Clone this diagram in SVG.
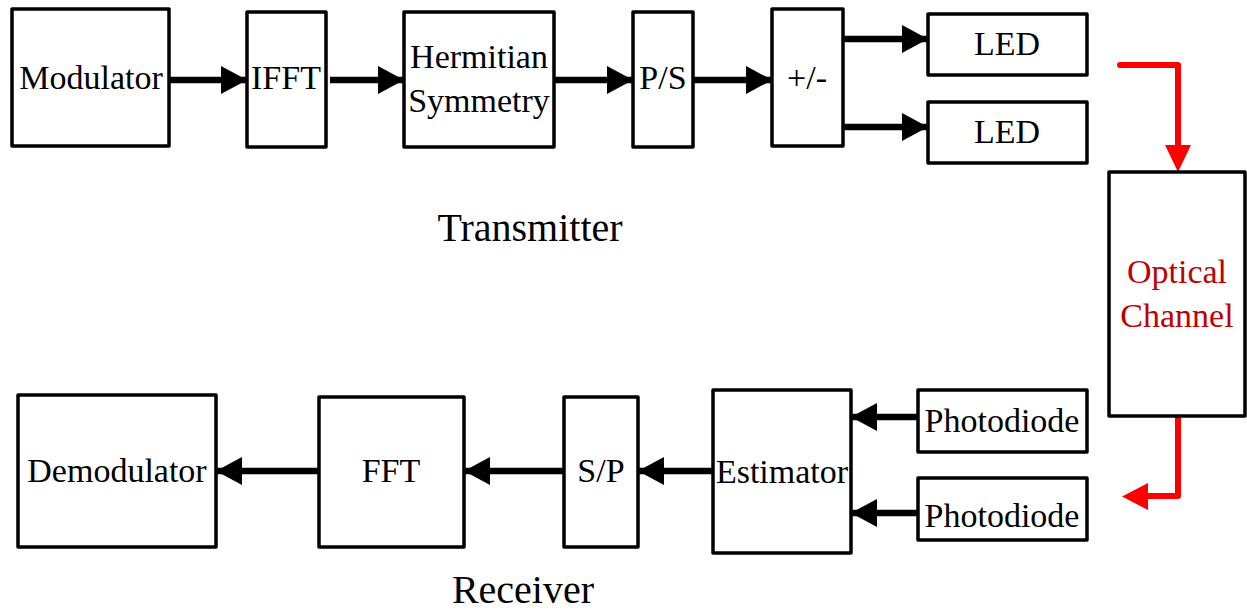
<svg xmlns="http://www.w3.org/2000/svg" width="1247" height="610" viewBox="0 0 1247 610">
<style>
.box{fill:#fff;stroke:#000;stroke-width:3.5;stroke-linejoin:round}
.t{font-family:"Liberation Serif","Times New Roman",serif;font-size:34px;fill:#000;text-anchor:middle}
.title{font-family:"Liberation Serif","Times New Roman",serif;font-size:40px;fill:#000;text-anchor:middle}
.red{fill:#C00000}
.c{fill:none;stroke:#000;stroke-width:6.5}
.cr{fill:none;stroke:#FF0000;stroke-width:6;stroke-linecap:round;stroke-linejoin:round}
</style>
<defs>
<marker id="ah" markerUnits="userSpaceOnUse" markerWidth="27" markerHeight="29" refX="26" refY="14" orient="auto">
<path d="M0,0 L26,14 L0,28 z" fill="#000"/>
</marker>
</defs>
<rect width="1247" height="610" fill="#fff"/>
<g id="connectors">
<line class="c" x1="169" y1="80" x2="247" y2="80" marker-end="url(#ah)"/>
<line class="c" x1="330" y1="80" x2="404" y2="80" marker-end="url(#ah)"/>
<line class="c" x1="554" y1="80" x2="633" y2="80" marker-end="url(#ah)"/>
<line class="c" x1="693" y1="80" x2="772" y2="80" marker-end="url(#ah)"/>
<line class="c" x1="843" y1="39" x2="928" y2="39" marker-end="url(#ah)"/>
<line class="c" x1="842" y1="127" x2="928" y2="127" marker-end="url(#ah)"/>
<polyline class="cr" points="1120,65 1178,65 1178,150" />
<path d="M1165,145 L1191,145 L1178,172 z" fill="#FF0000"/>
<polyline class="cr" points="1178,416 1178,496 1145,496" />
<path d="M1148,483 L1148,510 L1122,496.5 z" fill="#FF0000"/>
<line class="c" x1="918" y1="417" x2="851" y2="417" marker-end="url(#ah)"/>
<line class="c" x1="918" y1="513" x2="851" y2="513" marker-end="url(#ah)"/>
<line class="c" x1="713" y1="471" x2="638" y2="471" marker-end="url(#ah)"/>
<line class="c" x1="564" y1="471" x2="464" y2="471" marker-end="url(#ah)"/>
<line class="c" x1="319" y1="471" x2="216" y2="471" marker-end="url(#ah)"/>
</g>
<g id="modulator"><rect class="box" x="12" y="9" width="157" height="137"/><text class="t" x="91" y="89">Modulator</text></g>
<g id="ifft"><rect class="box" x="247" y="12" width="79" height="135"/><text class="t" x="286" y="89">IFFT</text></g>
<g id="hermitian"><rect class="box" x="404" y="12" width="150" height="135"/><text class="t" x="479" y="68">Hermitian</text><text class="t" x="479" y="112">Symmetry</text></g>
<g id="ps"><rect class="box" x="633" y="12" width="60" height="135"/><text class="t" x="663" y="89">P/S</text></g>
<g id="plusminus"><rect class="box" x="772" y="9" width="71" height="137"/><text class="t" x="807" y="89">+/-</text></g>
<g id="led1"><rect class="box" x="928" y="14" width="159" height="61"/><text class="t" x="1007" y="55">LED</text></g>
<g id="led2"><rect class="box" x="928" y="102" width="159" height="61"/><text class="t" x="1007" y="143">LED</text></g>
<g id="channel"><rect class="box" x="1109" y="172" width="136" height="244"/><text class="t red" x="1177" y="283">Optical</text><text class="t red" x="1177" y="327">Channel</text></g>
<g id="pd1"><rect class="box" x="918" y="390" width="169" height="62"/><text class="t" x="1002" y="432">Photodiode</text></g>
<g id="pd2"><rect class="box" x="918" y="478" width="169" height="62"/><text class="t" x="1002" y="527">Photodiode</text></g>
<g id="estimator"><rect class="box" x="713" y="390" width="138" height="163"/><text class="t" x="782" y="483">Estimator</text></g>
<g id="sp"><rect class="box" x="564" y="397" width="74" height="150"/><text class="t" x="601" y="482">S/P</text></g>
<g id="fft"><rect class="box" x="319" y="397" width="145" height="150"/><text class="t" x="391" y="482">FFT</text></g>
<g id="demodulator"><rect class="box" x="18" y="395" width="198" height="152"/><text class="t" x="117" y="482">Demodulator</text></g>
<g id="labels">
<text class="title" x="530" y="241">Transmitter</text>
<text class="title" x="523" y="603">Receiver</text>
</g>
</svg>
